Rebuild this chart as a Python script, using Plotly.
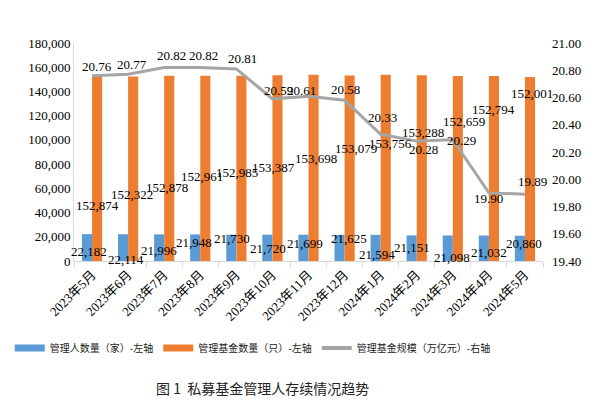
import plotly.graph_objects as go

months = ["2023年5月", "2023年6月", "2023年7月", "2023年8月", "2023年9月", "2023年10月",
          "2023年11月", "2023年12月", "2024年1月", "2024年2月", "2024年3月", "2024年4月", "2024年5月"]
managers = [22182, 22114, 21996, 21948, 21730, 21720, 21699, 21625, 21594, 21151, 21098, 21032, 20860]
funds = [152874, 152322, 152878, 152961, 152985, 153387, 153698, 153079, 153756, 153288, 152659, 152794, 152001]
scale = [20.76, 20.77, 20.82, 20.82, 20.81, 20.59, 20.61, 20.58, 20.33, 20.28, 20.29, 19.90, 19.89]

# label placements (manually placed in the original chart)
mgr_label_y = [8260, 1650, 9080, 15690, 18170, 10730, 14860, 18170, 5780, 11560, 3300, 7430, 14860]
mgr_label_dx = [-3, -2, -5, -6, -4, -4, -4, 4, -4, -5, -1, 0, -1]
fund_label_y = [46200, 54500, 61100, 69400, 72700, 77600, 85000, 93300, 97400, 106500, 114800, 124700, 138700]
fund_label_dx = [5, 4, 3, 2, 1, 1, 7, 11, 10, 6, 11, 5, 7]
scale_label_y = [20.824, 20.839, 20.905, 20.905, 20.883, 20.655, 20.648, 20.662, 20.45, 20.215, 20.288, 19.862, 19.987]
scale_label_dx = [5, 4, 7, 3, 6, 6, -7, 1, 2, 7, 9, 0, 8]

names = ["管理人数量（家）-左轴", "管理基金数量（只）-左轴", "管理基金规模（万亿元）-右轴"]
colors = ["#5B9BD5", "#ED7D31", "#A5A5A5"]

FONT = "Liberation Serif, Times New Roman, Noto Sans CJK SC, serif"
CJK = "Noto Sans CJK SC, sans-serif"

fig = go.Figure()
fig.add_trace(go.Bar(x=months, y=managers, name=names[0], showlegend=False,
                     marker=dict(color=colors[0], line=dict(width=0))))
fig.add_trace(go.Bar(x=months, y=funds, name=names[1], showlegend=False,
                     marker=dict(color=colors[1], line=dict(width=0))))
fig.add_trace(go.Scatter(x=months, y=scale, name=names[2], yaxis="y2", showlegend=False,
                         mode="lines", line=dict(color=colors[2], width=3)))
# legend entries (wide swatches like the original)
for nm, c, w in zip(names, colors, [7, 7, 4]):
    fig.add_trace(go.Scatter(x=[months[0]], y=[None], name=nm, mode="lines",
                             line=dict(color=c, width=w)))

ann = []
for m, v, ly, dx in zip(months, managers, mgr_label_y, mgr_label_dx):
    ann.append(dict(x=m, y=ly, xref="x", yref="y", text=f"{v:,}", showarrow=False,
                    xshift=dx, font=dict(family=FONT, size=13, color="#000")))
for m, v, ly, dx in zip(months, funds, fund_label_y, fund_label_dx):
    ann.append(dict(x=m, y=ly, xref="x", yref="y", text=f"{v:,}", showarrow=False,
                    xshift=dx, font=dict(family=FONT, size=13, color="#000")))
for m, v, ly, dx in zip(months, scale, scale_label_y, scale_label_dx):
    ann.append(dict(x=m, y=ly, xref="x", yref="y2", text=f"{v:.2f}", showarrow=False,
                    xshift=dx, font=dict(family=FONT, size=13, color="#000")))
ann.append(dict(x=(262 - 74) / 468, y=(261 - 388) / 218, xref="paper", yref="paper",
                yanchor="middle", text="图 1  私募基金管理人存续情况趋势",
                showarrow=False, font=dict(family=CJK, size=14, color="#222")))

fig.update_layout(
    width=605, height=410,
    margin=dict(l=74, r=62, t=43, b=149, autoexpand=False),
    paper_bgcolor="white", plot_bgcolor="white",
    barmode="group", bargap=0.44, bargroupgap=0,
    showlegend=True,
    legend=dict(orientation="h", x=-0.137, xanchor="left", y=-0.399, yanchor="middle",
                font=dict(family=CJK, size=10, color="#222"), traceorder="normal",
                itemwidth=30, tracegroupgap=0, bgcolor="rgba(0,0,0,0)"),
    xaxis=dict(type="category", range=[-0.5, len(months) - 0.5], tickangle=-45,
               tickfont=dict(family=FONT, size=13, color="#000"),
               showline=True, linecolor="#D9D9D9", linewidth=1, ticks="outside", tickson="boundaries",
               ticklen=5, tickcolor="#D9D9D9", showgrid=False),
    yaxis=dict(range=[0, 180000], dtick=20000, tickformat=",d", showgrid=False,
               showline=True, linecolor="#D9D9D9", linewidth=1,
               tickfont=dict(family=FONT, size=13, color="#000"), zeroline=False),
    yaxis2=dict(range=[19.4, 21.0], dtick=0.2, tickformat=".2f", overlaying="y", side="right",
                showgrid=False, showline=False, zeroline=False,
                tickfont=dict(family=FONT, size=13, color="#000"), ticklabelstandoff=8),
    annotations=ann,
)

fig.write_html("out.html", config={"responsive": False, "displayModeBar": False},
               post_script="document.body.style.margin='0';document.body.style.overflow='hidden';")
